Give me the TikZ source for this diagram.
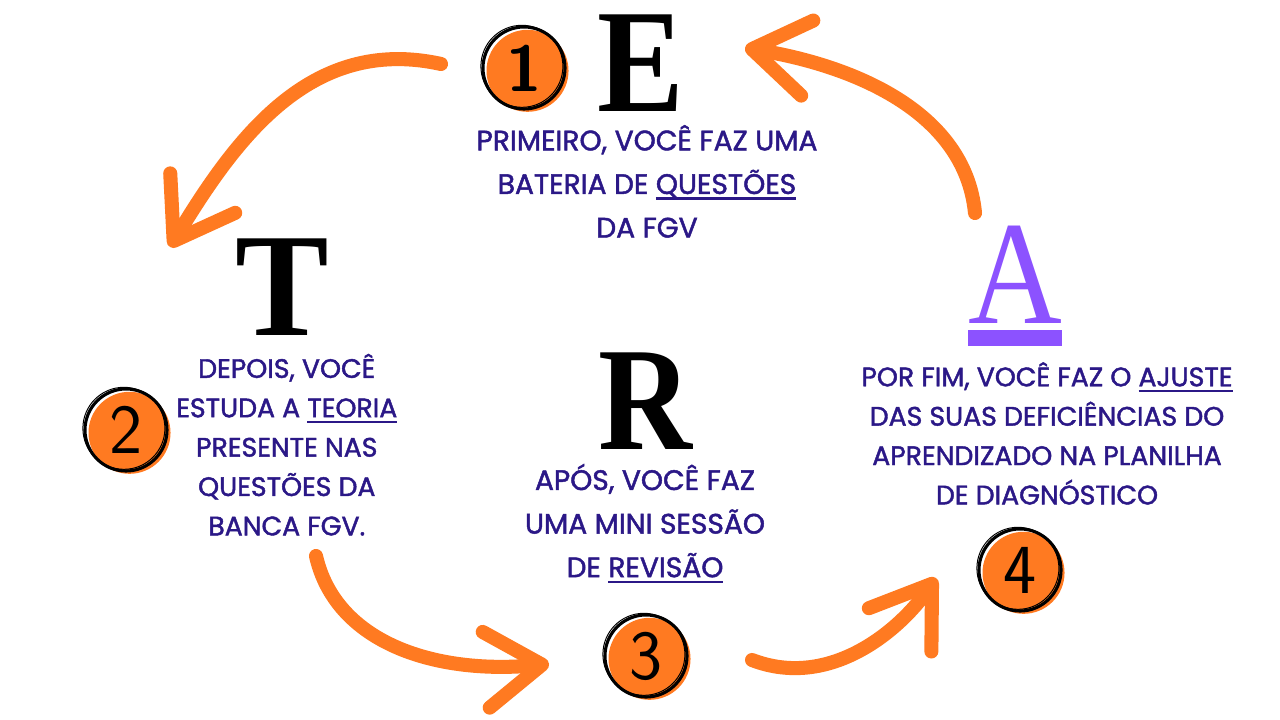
\documentclass[tikz,border=0pt]{standalone}
\usepackage{fontspec}
\usepackage{graphicx}
\usetikzlibrary{positioning,arrows.meta,calc}
\setmainfont{Poppins}[FakeBold=1.6]
\newfontfamily\bigserif{Liberation Serif}
\definecolor{ink}{HTML}{2B1887}
\definecolor{tangerine}{HTML}{FF7A21}
\definecolor{lilac}{HTML}{8C52FF}
\newsavebox\kwbox
\newcommand{\keyword}[1]{\sbox\kwbox{#1}\rlap{\rule[-4pt]{\wd\kwbox}{1.5pt}}\usebox\kwbox}
\newcommand{\bigletter}[1]{\scalebox{0.88}[1]{#1}}
\tikzset{
  letter/.style={inner sep=0pt, text=#1,
                 font=\bigserif\bfseries\fontsize{105}{105}\selectfont},
  letter/.default=black,
  stagetxt/.style={text=ink, align=center, inner sep=0pt,
                   font=\fontsize{20}{31}\selectfont},
  badge/.style={circle, draw=black, line width=2.2pt, minimum size=2.05cm,
                inner sep=0pt, font=\sffamily\fontsize{50}{50}\selectfont,
                preaction={fill=tangerine, transform canvas={xshift=2.5pt,yshift=-2pt}},
                postaction={draw=black, line width=0.7pt, transform canvas={xshift=-1.5pt,yshift=1.2pt}}},
  swoosh/.style={draw=tangerine, line width=10pt, line cap=round,
                 -{Straight Barb[length=14mm,width=19mm,round]}},
}

\begin{document}
\begin{tikzpicture}[x=0.025cm, y=-0.025cm, node distance=5mm]
  \path[use as bounding box, fill=white] (0,0) rectangle (1280,720);

  % the four letters
  \node[letter] (E) at (641,63) {\bigletter{E}};
  \node[letter] (T) at (282,287) {\scalebox{0.95}[1]{T}};
  \node[letter] (R) at (645,401) {\bigletter{R}};
  \node[letter=lilac, font=\bigserif\fontsize{105}{105}\selectfont] (A) at (1015,275) {\bigletter{A}};
  \fill[lilac] ($(A.south west)+(0,6)$) rectangle ($(A.south east)+(0,22)$);

  % what each step means
  \node[stagetxt, below=0.33cm of E, xshift=0.15cm] (t1)
    {PRIMEIRO, VOCÊ FAZ UMA\\BATERIA DE \keyword{QUESTÕES}\\DA FGV};
  \node[stagetxt, below=0.45cm of T, xshift=0.12cm, font=\fontsize{19}{28}\selectfont] (t2)
    {DEPOIS, VOCÊ\\ESTUDA A \keyword{TEORIA}\\PRESENTE NAS\\QUESTÕES DA\\BANCA FGV.};
  \node[stagetxt, below=0.35cm of R] (t3)
    {APÓS, VOCÊ FAZ\\UMA MINI SESSÃO\\DE \keyword{REVISÃO}};
  \node[stagetxt, below=0.95cm of A, xshift=0.8cm, font=\fontsize{19}{28}\selectfont] (t4)
    {POR FIM, VOCÊ FAZ O \keyword{AJUSTE}\\DAS SUAS DEFICIÊNCIAS DO\\APRENDIZADO NA PLANILHA\\DE DIAGNÓSTICO};

  % numbered badges
  \node[badge, font=\sffamily\bfseries\fontsize{46}{46}\selectfont] (n1) at (524,68) {1};
  \node[badge] (n2) at (126,430) {2};
  \node[badge] (n3) at (646,656) {3};
  \node[badge] (n4) at (1020,570) {4};

  % the cycle
  \coordinate (et0) at (441,64);  \coordinate (et1) at (170,247);
  \coordinate (tr0) at (316,556); \coordinate (tr1) at (549,664);
  \coordinate (ra0) at (752,660); \coordinate (ra1) at (936,578);
  \coordinate (ae0) at (975,213); \coordinate (ae1) at (745,48);
  \draw[swoosh] (et0) .. controls (310,35) and (235,140) .. (et1);
  \draw[swoosh] (tr0) .. controls (335,640) and (430,675) .. (tr1);
  \draw[swoosh] (ra0) .. controls (830,690) and (900,630) .. (ra1);
  \draw[swoosh] (ae0) .. controls (965,110) and (850,65) .. (ae1);
\end{tikzpicture}
\end{document}
